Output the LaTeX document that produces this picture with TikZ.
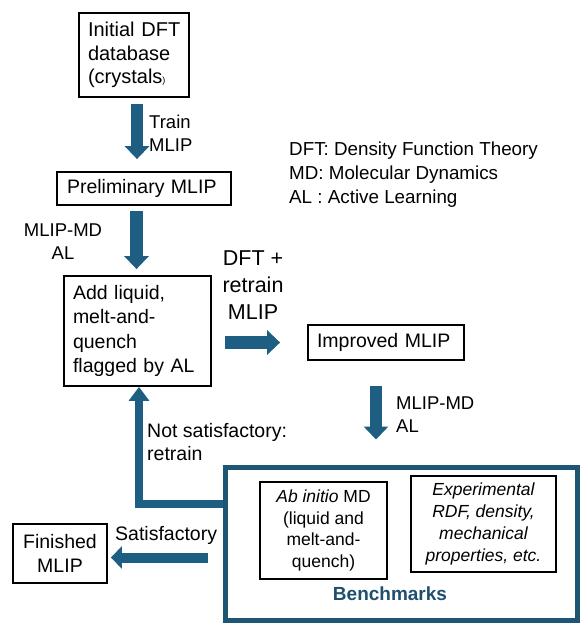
\documentclass[tikz,border=0pt]{standalone}
\usepackage{fontspec}
\setmainfont{Liberation Sans}
\usetikzlibrary{arrows.meta,calc}
\definecolor{arrowblue}{HTML}{1D5E82}
\definecolor{benchblue}{HTML}{1D5672}
\definecolor{benchtext}{HTML}{1F4F6E}
\newcommand\fsbox{\fontsize{19.5}{23.5}\selectfont}
\newcommand\fsinit{\fontsize{20}{23.5}\selectfont}
\newcommand\fsadd{\fontsize{19.5}{24.3}\selectfont}
\newcommand\fslab{\fontsize{18.5}{23}\selectfont}
\newcommand\fsbig{\fontsize{21.5}{27}\selectfont}
\newcommand\fsbench{\fontsize{17.5}{21.7}\selectfont}
\begin{document}
\begin{tikzpicture}[x=1pt,y=-1pt,
  box/.style={draw=black, line width=1.8pt, inner ysep=0pt},
  lbox/.style={box, align=left},
  cbox/.style={box, align=center, inner xsep=0pt},
  lab/.style={inner sep=0pt, align=left, anchor=base west},
  bigarrow/.style={draw=arrowblue, line width=12.5pt, -{Triangle[length=13pt,width=24pt]}},
  midarrow/.style={draw=arrowblue, line width=10pt, -{Triangle[length=11pt,width=22pt]}},
  fbarrow/.style={draw=arrowblue, line width=7.5pt, -{Triangle[length=14pt,width=20pt]}}
]
\useasboundingbox (0,0) rectangle (580,623);

% boxes
\node[lbox, text width=98pt, inner xsep=6pt, minimum height=84pt, font=\fsinit] (init) at (134,55)
  {\hspace*{3pt}Initial DFT\\\hspace*{3pt}database\\\hspace*{3pt}(crystals{\fontsize{9}{9}\selectfont)}};
\node[lbox, text width=154pt, inner xsep=10pt, minimum height=33pt, font=\fsbox] (prelim) at (144,188.5)
  {Preliminary MLIP};
\node[lbox, text width=129pt, inner xsep=9pt, minimum height=110pt, font=\fsadd] (add) at (137.5,331)
  {Add liquid,\\melt-and-\\quench\\flagged by AL};
\node[lbox, text width=138pt, inner xsep=9pt, minimum height=35pt, font=\fsbox] (improved) at (386,342.5)
  {Improved MLIP};
\node[cbox, minimum width=94pt, minimum height=59pt, font=\fsbox] (finished) at (60,553.5)
  {Finished\\MLIP};
\node[draw=benchblue, line width=5pt, minimum width=352pt, minimum height=153pt, inner sep=0pt] (bench) at (401,543.5) {};
\node[cbox, minimum width=127pt, minimum height=97pt, font=\fsbench] (abinitio) at (323.5,530.5)
  {\textit{Ab initio} MD\\(liquid and\\melt-and-\\quench)};
\node[cbox, minimum width=145pt, minimum height=96pt, font=\fsbench\itshape] (exper) at (483.5,524)
  {Experimental\\RDF, density,\\mechanical\\properties, etc.};
\node[inner sep=0pt, anchor=base, text=benchtext, font=\fontsize{19}{19}\selectfont\bfseries] (benchlabel) at (390,600) {Benchmarks};

% labels (base anchor = baseline of the last line)
\node[lab, font=\fslab] (train) at (149,151) {Train\\MLIP};
\node[inner sep=0pt, align=center, anchor=base, font=\fslab] (mdal1) at (63,259) {MLIP-MD\\AL};
\node[inner sep=0pt, align=center, anchor=base, font=\fsbig] (dftre) at (253,319) {DFT +\\retrain\\MLIP};
\node[lab, font=\fslab] (mdal2) at (396,432) {MLIP-MD\\AL};
\node[lab, font=\fontsize{19.5}{22.5}\selectfont] (notsat) at (147,460) {Not satisfactory:\\retrain};
\node[lab, font=\fontsize{19.5}{22.5}\selectfont] (sat) at (115,540) {Satisfactory};
\node[lab, font=\fontsize{18.8}{24}\selectfont] (legend) at (289,203)
  {DFT: Density Function Theory\\MD: Molecular Dynamics\\AL~: Active Learning};

% connectors
\draw[bigarrow] ($(init.south)+(3,6)$) -- ($(prelim.north)+(-7,-12)$);
\draw[bigarrow] ($(prelim.south)+(-7.5,5)$) -- ($(add.north)+(-1,-6)$);
\draw[bigarrow] ($(add.east |- improved.west)+(13,0)$) -- ($(improved.west)+(-27,0)$);
\draw[bigarrow] ($(improved.south)+(-10,25)$) -- ($(bench.north)+(-25,-25)$);
\draw[midarrow] ($(bench.west)+(-15,14)$) -- ($(finished.east)+(3,4)$);
\coordinate (fbc) at (139,504);
\draw[fbarrow] (bench.west |- fbc) -- (fbc) -- (fbc |- add.south);
\end{tikzpicture}
\end{document}
